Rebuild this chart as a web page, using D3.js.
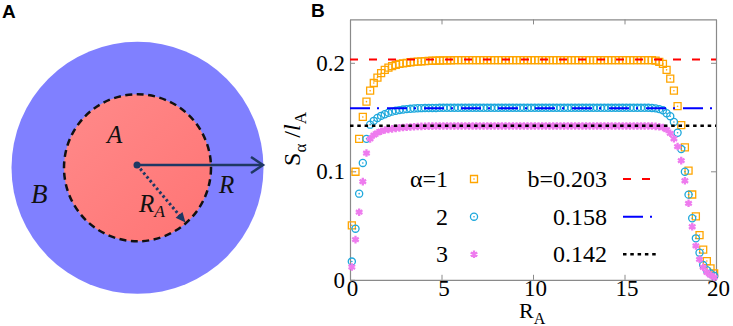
<!DOCTYPE html>
<html>
<head>
<meta charset="utf-8">
<script src="https://cdn.jsdelivr.net/npm/d3@7"></script>
<style>
  body { margin: 0; background: #fff; }
  svg { display: block; }
</style>
</head>
<body>
<div id="chart"></div>
<script>
// R_A sample positions (shared by the three series)
var rA = [
  0.1, 0.3, 0.5, 0.7, 0.9, 1.1, 1.3, 1.5, 1.7, 1.9,
  2.1, 2.3, 2.5, 2.7, 2.9, 3.1, 3.3, 3.5, 3.7, 3.9,
  4.1, 4.3, 4.5, 4.7, 4.9, 5.1, 5.3, 5.5, 5.7, 5.9,
  6.1, 6.3, 6.5, 6.7, 6.9, 7.1, 7.3, 7.5, 7.7, 7.9,
  8.1, 8.3, 8.5, 8.7, 8.9, 9.1, 9.3, 9.5, 9.7, 9.9,
  10.1, 10.3, 10.5, 10.7, 10.9, 11.1, 11.3, 11.5, 11.7, 11.9,
  12.1, 12.3, 12.5, 12.7, 12.9, 13.1, 13.3, 13.5, 13.7, 13.9,
  14.1, 14.3, 14.5, 14.7, 14.9, 15.1, 15.3, 15.5, 15.7, 15.9,
  16.1, 16.3, 16.5, 16.7, 16.9, 17.1, 17.3, 17.5, 17.7, 17.9,
  18.1, 18.3, 18.5, 18.7, 18.9, 19.1, 19.3, 19.5, 19.7, 19.9
];

// S_alpha / l_A, alpha = 1
var sAlpha1 = [
  0.0502, 0.0996, 0.1299, 0.1501, 0.1642, 0.1743, 0.1814, 0.1864, 0.1904, 0.1935,
  0.1955, 0.1970, 0.1980, 0.1990, 0.1995, 0.2000, 0.2005, 0.2008, 0.2011, 0.2013,
  0.2015, 0.2017, 0.2019, 0.2020, 0.2021, 0.2022, 0.2023, 0.2023, 0.2024, 0.2024,
  0.2025, 0.2025, 0.2025, 0.2025, 0.2025, 0.2025, 0.2025, 0.2025, 0.2025, 0.2025,
  0.2025, 0.2025, 0.2025, 0.2025, 0.2025, 0.2025, 0.2025, 0.2025, 0.2025, 0.2025,
  0.2025, 0.2025, 0.2025, 0.2025, 0.2025, 0.2025, 0.2025, 0.2025, 0.2025, 0.2025,
  0.2025, 0.2025, 0.2025, 0.2025, 0.2025, 0.2025, 0.2025, 0.2025, 0.2025, 0.2025,
  0.2025, 0.2025, 0.2025, 0.2025, 0.2025, 0.2025, 0.2025, 0.2025, 0.2025, 0.2025,
  0.2025, 0.2025, 0.2024, 0.2020, 0.2008, 0.1990, 0.1935, 0.1854, 0.1743, 0.1600,
  0.1425, 0.1220, 0.1006, 0.0786, 0.0585, 0.0412, 0.0279, 0.0173, 0.0106, 0.0060
];

// alpha = 2
var sAlpha2 = [
  0.0168, 0.0471, 0.0794, 0.1077, 0.1299, 0.1430, 0.1465, 0.1491, 0.1511, 0.1526,
  0.1540, 0.1550, 0.1558, 0.1564, 0.1569, 0.1573, 0.1576, 0.1579, 0.1581, 0.1582,
  0.1583, 0.1583, 0.1584, 0.1584, 0.1585, 0.1585, 0.1585, 0.1585, 0.1585, 0.1585,
  0.1585, 0.1585, 0.1585, 0.1585, 0.1585, 0.1585, 0.1585, 0.1585, 0.1585, 0.1585,
  0.1585, 0.1585, 0.1585, 0.1585, 0.1585, 0.1585, 0.1585, 0.1585, 0.1585, 0.1585,
  0.1585, 0.1585, 0.1585, 0.1585, 0.1585, 0.1585, 0.1585, 0.1585, 0.1585, 0.1585,
  0.1585, 0.1585, 0.1585, 0.1585, 0.1585, 0.1585, 0.1585, 0.1585, 0.1585, 0.1585,
  0.1585, 0.1585, 0.1585, 0.1585, 0.1585, 0.1585, 0.1585, 0.1585, 0.1585, 0.1585,
  0.1585, 0.1585, 0.1584, 0.1580, 0.1573, 0.1562, 0.1535, 0.1508, 0.1455, 0.1355,
  0.1205, 0.0996, 0.0785, 0.0567, 0.0382, 0.0250, 0.0136, 0.0088, 0.0058, 0.0035
];

// alpha = 3
var sAlpha3 = [
  0.0118, 0.0370, 0.0623, 0.0905, 0.1168, 0.1299, 0.1334, 0.1354, 0.1369, 0.1380,
  0.1386, 0.1391, 0.1396, 0.1400, 0.1403, 0.1406, 0.1409, 0.1411, 0.1413, 0.1414,
  0.1415, 0.1416, 0.1416, 0.1417, 0.1418, 0.1418, 0.1418, 0.1418, 0.1418, 0.1418,
  0.1418, 0.1418, 0.1418, 0.1418, 0.1418, 0.1418, 0.1418, 0.1418, 0.1418, 0.1418,
  0.1418, 0.1418, 0.1418, 0.1418, 0.1418, 0.1418, 0.1418, 0.1418, 0.1418, 0.1418,
  0.1418, 0.1418, 0.1418, 0.1418, 0.1418, 0.1418, 0.1418, 0.1418, 0.1418, 0.1418,
  0.1418, 0.1418, 0.1418, 0.1418, 0.1418, 0.1418, 0.1418, 0.1418, 0.1418, 0.1418,
  0.1418, 0.1418, 0.1418, 0.1418, 0.1418, 0.1418, 0.1418, 0.1418, 0.1418, 0.1418,
  0.1418, 0.1418, 0.1417, 0.1414, 0.1410, 0.1404, 0.1385, 0.1350, 0.1300, 0.1228,
  0.1098, 0.0913, 0.0705, 0.0489, 0.0312, 0.0189, 0.0115, 0.0068, 0.0044, 0.0023
];

// fitted plateau levels b
var bValues = [0.203, 0.158, 0.142];
var alphaLabels = ["\u03b1=1", "2", "3"];
var bLabels = ["b=0.203", "0.158", "0.142"];
var xTicks = [0, 5, 10, 15, 20];
var yTicks = [0, 0.1, 0.2];

var W = 733, H = 326;
var serif = "'Liberation Serif', 'Times New Roman', serif";
var navy = "#1f3864";

var svg = d3.select("#chart").append("svg")
    .attr("width", W).attr("height", H)
    .style("background", "#fff");

// ---------------- panel A: the disc schematic ----------------
var defs = svg.append("defs");
var grad = defs.append("linearGradient").attr("id", "redfill")
    .attr("x1", "0").attr("y1", "0").attr("x2", "1").attr("y2", "1");
grad.append("stop").attr("offset", "0%").attr("stop-color", "#ff8a8a");
grad.append("stop").attr("offset", "100%").attr("stop-color", "#ff7474");

var disc = {cx: 137.5, cy: 167.8, rOuter: 126, rInner: 73.5};
var gA = svg.append("g");

gA.append("circle")
    .attr("cx", disc.cx).attr("cy", disc.cy).attr("r", disc.rOuter)
    .attr("fill", "#8080ff");
gA.append("circle")
    .attr("cx", disc.cx).attr("cy", disc.cy).attr("r", disc.rInner)
    .attr("fill", "url(#redfill)")
    .attr("stroke", "#111").attr("stroke-width", 2.5)
    .attr("stroke-dasharray", "7,4.5");

var c0 = [disc.cx - 0.5, 165];
// R arrow (solid, open head)
gA.append("line")
    .attr("x1", c0[0]).attr("y1", c0[1]).attr("x2", 262).attr("y2", c0[1])
    .attr("stroke", navy).attr("stroke-width", 2.5);
gA.append("polyline")
    .attr("points", "251,157 263," + c0[1] + " 251,173")
    .attr("fill", "none").attr("stroke", navy).attr("stroke-width", 2.5);

// R_A arrow (dotted, filled head)
var tip = [185.5, 222.5];
var ang = Math.atan2(tip[1] - c0[1], tip[0] - c0[0]);
gA.append("line")
    .attr("x1", c0[0]).attr("y1", c0[1])
    .attr("x2", tip[0] - 8 * Math.cos(ang)).attr("y2", tip[1] - 8 * Math.sin(ang))
    .attr("stroke", navy).attr("stroke-width", 3)
    .attr("stroke-dasharray", "2.5,2.5");
gA.append("path")
    .attr("d", "M0,0L-10,-4.5L-10,4.5Z")
    .attr("transform", "translate(" + tip[0] + "," + tip[1] + ") rotate(" + (ang * 180 / Math.PI) + ")")
    .attr("fill", navy);
gA.append("circle").attr("cx", c0[0]).attr("cy", c0[1]).attr("r", 3.5).attr("fill", navy);

function italic(g, x, y, size, txt, sub) {
    var t = g.append("text").attr("x", x).attr("y", y)
        .attr("font-family", serif).attr("font-style", "italic")
        .attr("font-size", size).attr("fill", "#111").text(txt);
    if (sub) {
        t.append("tspan").attr("font-size", size * 0.7).attr("dy", 5).text(sub);
    }
}
italic(gA, 107, 143, 25, "A");
italic(gA, 31, 203, 27, "B");
italic(gA, 219, 193, 25, "R");
italic(gA, 139, 212, 25, "R", "A");

// panel letters
svg.append("text").attr("x", 2).attr("y", 18)
    .attr("font-family", "'Liberation Sans', Arial, sans-serif").attr("font-weight", "bold")
    .attr("font-size", 19).text("A");
svg.append("text").attr("x", 311).attr("y", 17)
    .attr("font-family", "'Liberation Sans', Arial, sans-serif").attr("font-weight", "bold")
    .attr("font-size", 19).text("B");

// ---------------- panel B: S_alpha / l_A against R_A ----------------
var x = d3.scaleLinear().domain([0, 20]).range([350, 716]);
var y = d3.scaleLinear().domain([0, 0.24]).range([279.8, 19.4]);
var gB = svg.append("g");

var frameColor = "#8a8a8a";
function styleAxis(g) {
    g.selectAll("path.domain").attr("stroke", frameColor).attr("stroke-width", 1.2);
    g.selectAll(".tick line").attr("stroke", frameColor).attr("stroke-width", 1);
    g.selectAll("text").attr("font-family", serif).attr("font-size", 23).attr("fill", "#000");
}

gB.append("g").attr("transform", "translate(0," + y(0) + ")")
    .call(d3.axisBottom(x).tickValues(xTicks).tickSizeInner(-5).tickSizeOuter(0).tickPadding(0))
    .call(styleAxis)
    .selectAll("text").attr("dx", 2);
gB.append("g").attr("transform", "translate(0," + y(0.24) + ")")
    .call(d3.axisTop(x).tickValues(xTicks).tickSizeInner(-5).tickSizeOuter(0).tickFormat(""))
    .call(styleAxis);
gB.append("g").attr("transform", "translate(" + x(0) + ",0)")
    .call(d3.axisLeft(y).tickValues(yTicks).tickSizeInner(-5).tickSizeOuter(0).tickPadding(5)
        .tickFormat(function(d) { return d === 0 ? "0" : d3.format(".1f")(d); }))
    .call(styleAxis);
gB.append("g").attr("transform", "translate(" + x(20) + ",0)")
    .call(d3.axisRight(y).tickValues(yTicks).tickSizeInner(-5).tickSizeOuter(0).tickFormat(""))
    .call(styleAxis);

// marker styles for the three alpha series
var series = [
    {values: sAlpha1, color: "#ffa500", symbol: d3.symbolSquare, size: 49, dot: true, sw: 1.3},
    {values: sAlpha2, color: "#1ea8dc", symbol: d3.symbolCircle, size: 40, dot: true, sw: 1.3},
    {values: sAlpha3, color: "#ee7bee", symbol: d3.symbolAsterisk, size: 40, dot: false, sw: 2.3}
];
var lineStyles = [
    {color: "#ff0000", dash: "8,11", width: 2},
    {color: "#0000ff", dash: "20,7,2,8", width: 2},
    {color: "#000000", dash: "3.5,3.8", width: 2.4}
];

function drawMarker(g, s, cx, cy) {
    g.append("path")
        .attr("d", d3.symbol().type(s.symbol).size(s.size)())
        .attr("transform", "translate(" + cx + "," + cy + ")")
        .attr("fill", "none").attr("stroke", s.color).attr("stroke-width", s.sw);
    if (s.dot) {
        g.append("circle").attr("cx", cx).attr("cy", cy).attr("r", 0.8).attr("fill", s.color);
    }
}

series.forEach(function(s) {
    var gs = gB.append("g");
    s.values.forEach(function(v, i) {
        drawMarker(gs, s, x(rA[i]), y(v));
    });
});

// plateau lines b, drawn on top of the points
bValues.forEach(function(b, i) {
    var ls = lineStyles[i];
    gB.append("line")
        .attr("x1", x(0)).attr("x2", x(20))
        .attr("y1", y(b)).attr("y2", y(b))
        .attr("stroke", ls.color).attr("stroke-width", ls.width)
        .attr("stroke-dasharray", ls.dash);
});

// legend
var legRowY = [179, 216.7, 254.3];
legRowY.forEach(function(ry, i) {
    gB.append("text").attr("x", 448).attr("y", ry + 8)
        .attr("text-anchor", "end").attr("font-family", serif).attr("font-size", 24)
        .text(alphaLabels[i]);
    drawMarker(gB, series[i], 474, ry);
    gB.append("text").attr("x", 607).attr("y", ry + 8)
        .attr("text-anchor", "end").attr("font-family", serif).attr("font-size", 24)
        .text(bLabels[i]);
    var ls = lineStyles[i];
    gB.append("line")
        .attr("x1", 623).attr("x2", 656).attr("y1", ry).attr("y2", ry)
        .attr("stroke", ls.color).attr("stroke-width", ls.width)
        .attr("stroke-dasharray", ls.dash);
});

// axis titles
var xl = gB.append("text").attr("x", 519).attr("y", 318)
    .attr("font-family", serif).attr("font-size", 22).text("R");
xl.append("tspan").attr("font-size", 16).attr("dy", 6).text("A");

var yl = gB.append("text")
    .attr("transform", "translate(300,139) rotate(-90)")
    .attr("text-anchor", "middle")
    .attr("font-family", serif).attr("font-size", 24);
yl.append("tspan").text("S");
yl.append("tspan").attr("font-size", 17).attr("dy", 6).text("\u03b1");
yl.append("tspan").attr("dy", -6).text(" /");
yl.append("tspan").attr("font-style", "italic").text("l");
yl.append("tspan").attr("font-size", 17).attr("dy", 6).text("A");
</script>
</body>
</html>
